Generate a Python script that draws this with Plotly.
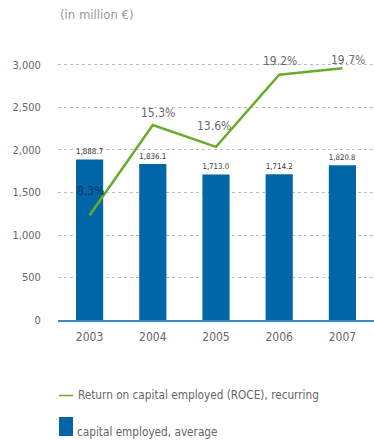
import plotly.graph_objects as go

# --- data ---
years = ["2003", "2004", "2005", "2006", "2007"]
capital_employed = [1888.7, 1836.1, 1713.0, 1714.2, 1820.8]   # million €
roce = [8.3, 15.3, 13.6, 19.2, 19.7]                           # %
y_ticks = [0, 500, 1000, 1500, 2000, 2500, 3000]
y_tick_text = ["0", "500", "1,000", "1,500", "2,000", "2,500", "3,000"]

# --- styling ---
FONT = "Liberation Sans Narrow, DejaVu Sans Condensed, Roboto Condensed, Roboto, sans-serif"
BLUE = "#0066a6"
GREEN = "#6aab2b"
AXIS_BLUE = "#3a88c8"
GREY = "#666666"
# per-label nudges (px) for the ROCE percentages
pct_xshift = [1, 5, -2, 1, 6]
pct_yshift = [24, 12, 21, 14, 8]
pct_color = ["#12385e", "#6a6a6a", "#6a6a6a", "#6a6a6a", "#6a6a6a"]

fig = go.Figure()

fig.add_trace(go.Bar(
    x=years, y=capital_employed,
    marker=dict(color=BLUE, line=dict(width=0)),
    width=0.43,
    text=[f"{v:,.1f}" for v in capital_employed],
    textposition="outside",
    textfont=dict(family=FONT, size=8, color="#333333"),
    cliponaxis=False,
    hoverinfo="skip",
    showlegend=False,
))

fig.add_trace(go.Scatter(
    x=years, y=roce, yaxis="y2",
    mode="lines",
    line=dict(color=GREEN, width=2.5),
    hoverinfo="skip",
    showlegend=False,
))

# percentage labels, placed by category index on the category axis
for i, (v, dx, dy, c) in enumerate(zip(roce, pct_xshift, pct_yshift, pct_color)):
    fig.add_annotation(
        x=i, y=v, xref="x", yref="y2", text=f"{v:.1f}%", showarrow=False,
        xshift=dx, yshift=dy,
        font=dict(family=FONT, size=12, color=c),
    )

# unit caption
fig.add_annotation(
    x=58, y=15, xref="paper", yref="paper", text="(in million €)",
    showarrow=False, xanchor="left", yanchor="middle",
    font=dict(family=FONT, size=13, color="#9a9a9a"),
)

# hand-built legend below the plot
fig.add_shape(type="line", xref="paper", yref="paper",
              x0=59, x1=73, y0=395.5, y1=395.5,
              line=dict(color=GREEN, width=1.5))
fig.add_annotation(
    x=76, y=395, xref="paper", yref="paper",
    text="Return on capital employed (ROCE), recurring",
    showarrow=False, xanchor="left", yanchor="middle",
    font=dict(family=FONT, size=11.7, color=GREY),
)
fig.add_shape(type="rect", xref="paper", yref="paper",
              x0=59, x1=73, y0=417, y1=436,
              fillcolor=BLUE, line=dict(width=0))
fig.add_annotation(
    x=74.5, y=431.5, xref="paper", yref="paper",
    text="capital employed, average",
    showarrow=False, xanchor="left", yanchor="middle",
    font=dict(family=FONT, size=11.7, color=GREY),
)

W, H = 374, 441
ML, MR, MT, MB = 58, 0, 57, 121
PW, PH = W - ML - MR, H - MT - MB

# convert pixel-positioned paper items
for a in fig.layout.annotations:
    if a.xref == "paper":
        a.x = (a.x - ML) / PW
        a.y = 1 - (a.y - MT) / PH
for s in fig.layout.shapes:
    s.x0 = (s.x0 - ML) / PW
    s.x1 = (s.x1 - ML) / PW
    s.y0, s.y1 = 1 - (s.y0 - MT) / PH, 1 - (s.y1 - MT) / PH

fig.update_layout(
    width=W, height=H,
    margin=dict(l=ML, r=MR, t=MT, b=MB, pad=0),
    paper_bgcolor="white", plot_bgcolor="white",
    font=dict(family=FONT, color=GREY),
    bargap=0.57,
    xaxis=dict(
        type="category",
        range=[-0.5, len(years) - 0.5],
        showgrid=False,
        showline=True, linecolor=AXIS_BLUE, linewidth=1.5,
        ticks="outside", ticklen=5, tickcolor="rgba(0,0,0,0)",
        tickfont=dict(family=FONT, size=12, color=GREY),
        zeroline=False,
    ),
    yaxis=dict(
        range=[0, 3094],
        tickvals=y_ticks, ticktext=y_tick_text,
        showgrid=True, gridcolor="#bdbdbd", griddash="dot", gridwidth=1,
        zeroline=False, showline=False,
        ticks="outside", ticklen=14, tickcolor="rgba(0,0,0,0)",
        tickfont=dict(family=FONT, size=11, color=GREY),
    ),
    yaxis2=dict(
        overlaying="y", side="right",
        range=[0.16, 20.58],
        visible=False, showgrid=False,
    ),
)

fig.write_html("out.html")
